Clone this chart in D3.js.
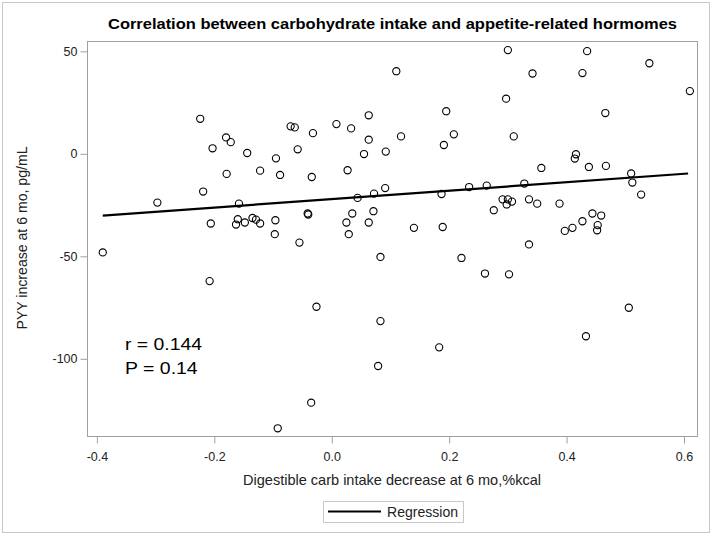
<!DOCTYPE html>
<html><head><meta charset="utf-8">
<script src="https://cdn.jsdelivr.net/npm/d3@7"></script>
<style>body{margin:0;background:#fff}svg{display:block}text{font-family:"Liberation Sans",Arial,sans-serif}</style>
</head><body><svg id="c" width="714" height="537"></svg>
<script>
const carbDecrease = [-0.390,-0.297,-0.224,-0.219,-0.208,-0.206,-0.203,-0.180,-0.179,-0.172,-0.163,-0.160,-0.158,-0.148,-0.144,-0.135,-0.129,-0.122,-0.122,-0.097,-0.096,-0.095,-0.092,-0.088,-0.070,-0.063,-0.058,-0.055,-0.041,-0.040,-0.035,-0.034,-0.032,-0.026,0.008,0.025,0.027,0.029,0.033,0.035,0.044,0.055,0.063,0.063,0.063,0.071,0.072,0.079,0.083,0.083,0.091,0.092,0.110,0.118,0.140,0.183,0.187,0.189,0.191,0.195,0.208,0.221,0.234,0.261,0.264,0.276,0.291,0.297,0.298,0.300,0.300,0.302,0.307,0.310,0.328,0.336,0.336,0.342,0.350,0.357,0.388,0.397,0.410,0.414,0.416,0.427,0.427,0.433,0.435,0.438,0.444,0.452,0.453,0.459,0.466,0.467,0.506,0.510,0.512,0.527,0.541,0.610];
const pyyIncrease = [-48.1,-23.8,17.1,-18.4,-62.1,-34.0,2.7,8.0,-9.8,5.7,-34.5,-31.9,-24.3,-33.5,0.4,-31.3,-32.1,-8.2,-34.0,-39.2,-32.4,-2.2,-133.9,-10.3,13.4,12.9,2.2,-43.3,-29.1,-29.6,-121.4,-11.3,10.1,-74.6,14.5,-33.5,-8.0,-39.2,12.4,-29.1,-21.5,-0.1,18.8,6.9,-33.5,-28.0,-19.4,-103.5,-50.3,-81.6,-16.7,1.1,40.3,8.5,-36.1,-94.4,-19.6,-35.7,4.3,20.8,9.5,-50.8,-16.2,-58.4,-15.5,-27.5,-22.2,26.9,-24.7,-22.2,50.6,-58.8,-23.3,8.5,-14.5,-44.2,-22.2,39.2,-24.3,-6.9,-24.3,-37.6,-36.1,-2.3,-0.2,39.4,-32.9,-89.0,50.1,-6.4,-29.1,-37.3,-34.8,-30.1,19.9,-5.9,-75.1,-9.6,-14.0,-19.9,44.2,30.6];
const regressionX = [-0.390, 0.607];
const regressionY = [-30.1, -9.6];
const xTicks = [-0.4,-0.2,0.0,0.2,0.4,0.6];
const yTicks = [-100,-50,0,50];
const title = "Correlation between carbohydrate intake and appetite-related hormomes";
const xLabel = "Digestible carb intake decrease at 6 mo,%kcal";
const yLabel = "PYY increase at 6 mo, pg/mL";
const statLines = ["r = 0.144","P = 0.14"];
const legendLabel = "Regression";

const loc = d3.formatLocale({decimal:".",thousands:",",grouping:[3],currency:["",""],minus:"-"});
const svg = d3.select("#c");
const L=87.5, R=697.5, T=41.5, B=436.5;
const x = d3.scaleLinear().domain([-0.416,0.623]).range([L,R]);
const y = d3.scaleLinear().domain([-137.9,54.8]).range([B,T]);

svg.append("rect").attr("x",2.5).attr("y",2.5).attr("width",707).attr("height",530)
  .attr("fill","none").attr("stroke","#c8c8c8");
svg.append("rect").attr("x",L).attr("y",T).attr("width",R-L).attr("height",B-T)
  .attr("fill","none").attr("stroke","#a0a0a0");

const xa = svg.append("g").attr("transform",`translate(0,${B})`)
  .call(d3.axisBottom(x).tickValues(xTicks).tickFormat(loc.format(".1f")).tickSize(7).tickSizeOuter(0));
const ya = svg.append("g").attr("transform",`translate(${L},0)`)
  .call(d3.axisLeft(y).tickValues(yTicks).tickFormat(loc.format("d")).tickSize(7).tickSizeOuter(0));
[xa,ya].forEach(a=>{
  a.select(".domain").remove();
  a.selectAll(".tick line").attr("stroke","#a0a0a0");
  a.selectAll(".tick text").attr("fill","#222").style("font-size","12.5px").style("font-family","'Liberation Sans',Arial,sans-serif");
});
xa.selectAll(".tick text").attr("dy","1.15em");
ya.selectAll(".tick text").attr("x",-10);

svg.append("line")
  .attr("x1",x(regressionX[0])).attr("y1",y(regressionY[0]))
  .attr("x2",x(regressionX[1])).attr("y2",y(regressionY[1]))
  .attr("stroke","#000").attr("stroke-width",2.2);

svg.append("g").selectAll("circle").data(d3.range(carbDecrease.length)).join("circle")
  .attr("cx",i=>x(carbDecrease[i])).attr("cy",i=>y(pyyIncrease[i])).attr("r",3.6)
  .attr("fill","none").attr("stroke","#000").attr("stroke-width",1.1);

const statW=[77,72.7];
svg.selectAll(".stat").data(statLines).join("text").attr("class","stat")
  .attr("x",125).attr("y",(d,i)=>350+i*24).style("font-size","17px").attr("fill","#000")
  .attr("textLength",(d,i)=>statW[i]).attr("lengthAdjust","spacingAndGlyphs").text(d=>d);

svg.append("text").attr("x",(L+R)/2).attr("y",29).attr("text-anchor","middle")
  .style("font-size","15px").style("font-weight","bold").attr("fill","#000")
  .attr("textLength",569).attr("lengthAdjust","spacingAndGlyphs").text(title);

svg.append("text").attr("x",(L+R)/2 - 0.5).attr("y",485).attr("text-anchor","middle")
  .style("font-size","14.5px").attr("fill","#222")
  .attr("textLength",298).attr("lengthAdjust","spacingAndGlyphs").text(xLabel);
svg.append("text").attr("transform",`translate(27,${(T+B)/2 - 1}) rotate(-90)`).attr("text-anchor","middle")
  .style("font-size","14px").attr("fill","#222")
  .attr("textLength",183).attr("lengthAdjust","spacingAndGlyphs").text(yLabel);

const lg = svg.append("g");
lg.append("rect").attr("x",323.5).attr("y",501.5).attr("width",140).attr("height",21)
  .attr("fill","none").attr("stroke","#c8c8c8");
lg.append("line").attr("x1",328).attr("x2",381).attr("y1",511.5).attr("y2",511.5)
  .attr("stroke","#000").attr("stroke-width",2.2);
lg.append("text").attr("x",387).attr("y",517).style("font-size","14px").attr("fill","#222")
  .attr("textLength",71).attr("lengthAdjust","spacingAndGlyphs").text(legendLabel);
</script></body></html>
